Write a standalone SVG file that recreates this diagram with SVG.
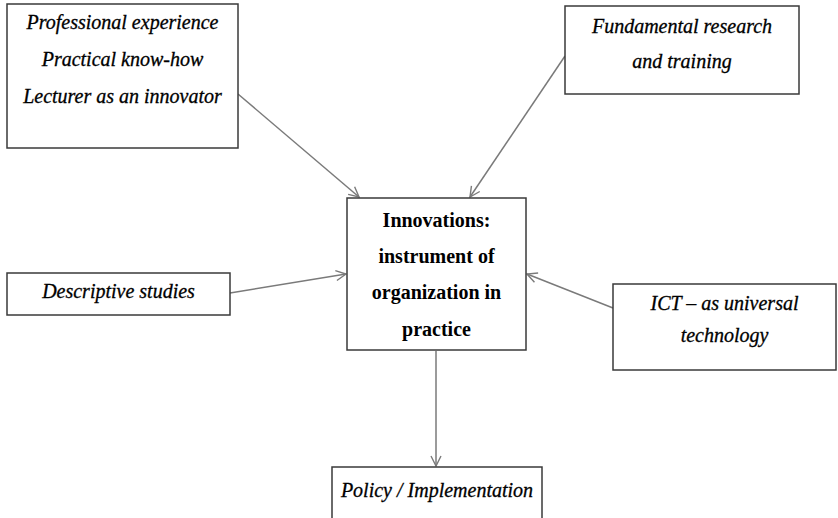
<svg xmlns="http://www.w3.org/2000/svg" width="838" height="518" viewBox="0 0 838 518">
  <style>
    .box { fill: #ffffff; stroke: #3a3a3a; stroke-width: 1.5; }
    .t { font-family: "Liberation Serif", "Times New Roman", serif; font-size: 20px; font-style: italic; fill: #000; stroke: #000; stroke-width: 0.3; text-anchor: middle; }
    .b { font-family: "Liberation Serif", "Times New Roman", serif; font-size: 20px; font-weight: bold; fill: #000; text-anchor: middle; }
    .conn { stroke: #7a7a7a; stroke-width: 1.5; fill: none; marker-end: url(#arrow); }
  </style>
  <defs>
    <marker id="arrow" viewBox="0 0 12 12" refX="11" refY="6" markerWidth="12" markerHeight="12" markerUnits="userSpaceOnUse" orient="auto">
      <path d="M1,1 L11,6 L1,11" fill="none" stroke="#7a7a7a" stroke-width="1.4"/>
    </marker>
  </defs>
  <rect width="838" height="518" fill="#ffffff"/>

  <g id="connectors">
    <line class="conn" x1="238" y1="94" x2="359" y2="197"/>
    <line class="conn" x1="565" y1="56" x2="470" y2="197"/>
    <line class="conn" x1="230" y1="293" x2="346" y2="274"/>
    <line class="conn" x1="613" y1="308" x2="527" y2="274"/>
    <line class="conn" x1="436" y1="351" x2="436" y2="466"/>
  </g>

  <g id="node-experience">
    <rect class="box" x="7" y="4" width="231" height="144"/>
    <text class="t" x="122.5" y="29">Professional experience</text>
    <text class="t" x="122.5" y="66">Practical know-how</text>
    <text class="t" x="122.5" y="103">Lecturer as an innovator</text>
  </g>

  <g id="node-research">
    <rect class="box" x="565" y="6" width="234" height="88"/>
    <text class="t" x="682" y="33">Fundamental research</text>
    <text class="t" x="682" y="68">and training</text>
  </g>

  <g id="node-innovations">
    <rect class="box" x="347" y="198" width="179" height="152"/>
    <text class="b" x="436.5" y="227">Innovations:</text>
    <text class="b" x="436.5" y="263">instrument of</text>
    <text class="b" x="436.5" y="299">organization in</text>
    <text class="b" x="436.5" y="336">practice</text>
  </g>

  <g id="node-descriptive">
    <rect class="box" x="7" y="273" width="223" height="42"/>
    <text class="t" x="118.5" y="298">Descriptive studies</text>
  </g>

  <g id="node-ict">
    <rect class="box" x="613" y="284" width="223" height="86"/>
    <text class="t" x="724.5" y="310">ICT – as universal</text>
    <text class="t" x="724.5" y="342">technology</text>
  </g>

  <g id="node-policy">
    <rect class="box" x="332" y="467" width="210" height="70"/>
    <text class="t" x="437" y="497">Policy / Implementation</text>
  </g>
</svg>
